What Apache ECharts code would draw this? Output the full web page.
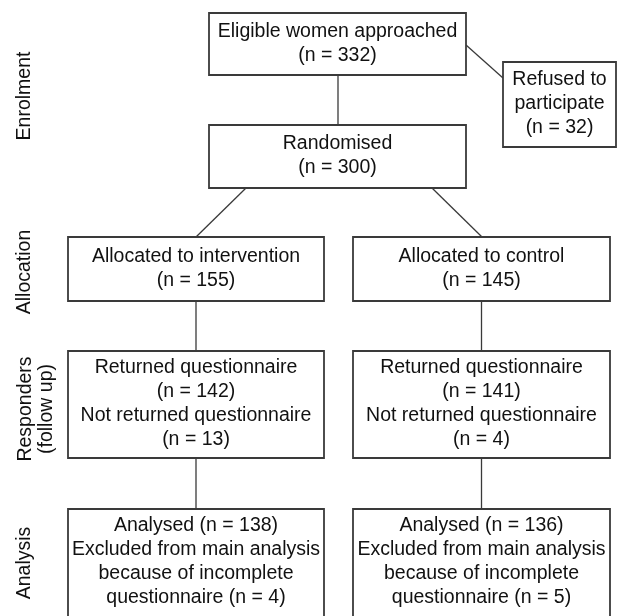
<!DOCTYPE html>
<html>
<head>
<meta charset="utf-8">
<script src="https://cdn.jsdelivr.net/npm/echarts@6/dist/echarts.min.js"></script>
<style>
  html, body { margin: 0; padding: 0; background: #ffffff; }
  #chart { width: 618px; height: 616px; }
</style>
</head>
<body>
<div id="chart"></div>
<script>
// ---- Data ----
const stageLabels = ['Enrolment', 'Allocation', 'Responders\n(follow up)', 'Analysis'];
const enrolmentCounts = [332, 32, 300];   // approached, refused, randomised
const arms = ['intervention', 'control'];
const allocated = [155, 145];
const returned = [142, 141];
const notReturned = [13, 4];
const analysed = [138, 136];
const excluded = [4, 5];

// ---- Texts built from data ----
const boxTexts = [
  'Eligible women approached\n(n = ' + enrolmentCounts[0] + ')',
  'Refused to\nparticipate\n(n = ' + enrolmentCounts[1] + ')',
  'Randomised\n(n = ' + enrolmentCounts[2] + ')'
];
arms.forEach((a, i) => boxTexts.push('Allocated to ' + a + '\n(n = ' + allocated[i] + ')'));
arms.forEach((a, i) => boxTexts.push('Returned questionnaire\n(n = ' + returned[i] + ')\nNot returned questionnaire\n(n = ' + notReturned[i] + ')'));
arms.forEach((a, i) => boxTexts.push('Analysed (n = ' + analysed[i] + ')\nExcluded from main analysis\nbecause of incomplete\nquestionnaire (n = ' + excluded[i] + ')'));

// ---- Layout (diagram geometry, in page units) ----
const boxRects = [
  [209, 13, 466, 75],
  [503, 62, 616, 147],
  [209, 125, 466, 188],
  [68, 237, 324, 301], [353, 237, 610, 301],
  [68, 351, 324, 458], [353, 351, 610, 458],
  [68, 509, 324, 650], [353, 509, 610, 650]
];
const textCenterY = [44, 104, 156, 269, 269, 404, 404, 562, 562];
const connectors = [
  [338, 75, 338, 125],
  [466, 45, 503, 78],
  [246, 188, 196, 237],
  [432, 188, 482, 237],
  [196, 301, 196, 351], [481.5, 301, 481.5, 351],
  [196, 458, 196, 509], [481.5, 458, 481.5, 509]
];
const stagePos = [[25, 96], [25, 272], [36, 409], [25, 563]];

const FONT = '19.5px "Liberation Sans", Arial, sans-serif';
const INK = '#111111';
const LINE = '#3a3a3a';

const chart = echarts.init(document.getElementById('chart'), null, { renderer: 'canvas' });

chart.setOption({
  backgroundColor: '#ffffff',
  animation: false,
  grid: { left: 0, right: 0, top: 0, bottom: 0 },
  xAxis: { type: 'value', min: 0, max: 618, show: false },
  yAxis: { type: 'value', min: 0, max: 616, inverse: true, show: false },
  series: [
    {
      name: 'connectors',
      type: 'custom',
      coordinateSystem: 'cartesian2d',
      clip: false,
      silent: true,
      data: connectors.map((c, i) => [i]),
      renderItem: function (params, api) {
        const c = connectors[api.value(0)];
        const p1 = api.coord([c[0], c[1]]);
        const p2 = api.coord([c[2], c[3]]);
        return {
          type: 'line',
          shape: { x1: p1[0], y1: p1[1], x2: p2[0], y2: p2[1] },
          style: { stroke: LINE, lineWidth: 1.3 }
        };
      }
    },
    {
      name: 'boxes',
      type: 'custom',
      coordinateSystem: 'cartesian2d',
      clip: false,
      silent: true,
      data: boxTexts.map((t, i) => [i]),
      renderItem: function (params, api) {
        const i = api.value(0);
        const r = boxRects[i];
        const p1 = api.coord([r[0], r[1]]);
        const p2 = api.coord([r[2], r[3]]);
        const cx = (p1[0] + p2[0]) / 2;
        const cy = api.coord([0, textCenterY[i]])[1];
        return {
          type: 'group',
          children: [
            {
              type: 'rect',
              shape: { x: p1[0], y: p1[1], width: p2[0] - p1[0], height: p2[1] - p1[1] },
              style: { fill: '#ffffff', stroke: LINE, lineWidth: 1.8 }
            },
            {
              type: 'text',
              style: {
                text: boxTexts[i], x: cx, y: cy,
                align: 'center', verticalAlign: 'middle',
                font: FONT, lineHeight: 24, fill: INK
              }
            }
          ]
        };
      }
    },
    {
      name: 'stages',
      type: 'custom',
      coordinateSystem: 'cartesian2d',
      clip: false,
      silent: true,
      data: stageLabels.map((s, i) => [i]),
      renderItem: function (params, api) {
        const i = api.value(0);
        const p = api.coord(stagePos[i]);
        return {
          type: 'text',
          x: p[0], y: p[1],
          rotation: Math.PI / 2,
          style: {
            text: stageLabels[i], x: 0, y: 0,
            align: 'center', verticalAlign: 'middle',
            font: FONT, lineHeight: 21, fill: INK
          }
        };
      }
    }
  ]
});
</script>
</body>
</html>
